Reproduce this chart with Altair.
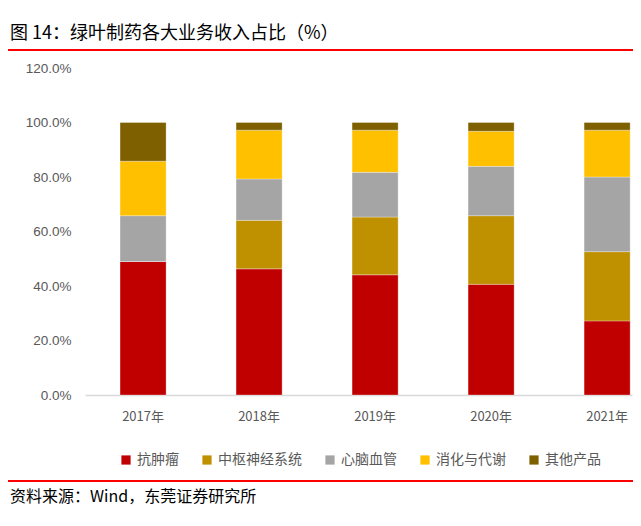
import altair as alt
import pandas as pd

years = ["2017年", "2018年", "2019年", "2020年", "2021年"]
segments = ["抗肿瘤", "中枢神经系统", "心脑血管", "消化与代谢", "其他产品"]
colors = ["#C00000", "#BF9000", "#A5A5A5", "#FFC000", "#7F6000"]

anti_tumor = [49.0, 46.3, 44.1, 40.6, 27.2]
cns = [0.0, 17.8, 21.2, 25.2, 25.4]
cardio = [16.8, 15.2, 16.4, 18.1, 27.4]
digest = [20.0, 17.9, 15.5, 12.9, 17.2]
others = [14.2, 2.8, 2.8, 3.2, 2.8]

y_ticks = [0.0, 0.2, 0.4, 0.6, 0.8, 1.0, 1.2]

title_text = "图 14：绿叶制药各大业务收入占比（%）"
source_text = "资料来源：Wind，东莞证券研究所"

series = [anti_tumor, cns, cardio, digest, others]
rows = []
for si, (seg, vals) in enumerate(zip(segments, series)):
    for yr, v in zip(years, vals):
        rows.append({"year": yr, "segment": seg, "value": v / 100.0, "ord": si})
df = pd.DataFrame(rows)

W, H = 547, 327
FONT = "Noto Sans CJK SC"

bars = alt.Chart(df).mark_bar(stroke="white", strokeWidth=0.5, strokeOpacity=0.6).encode(
    x=alt.X("year:N", sort=years, title=None,
            scale=alt.Scale(paddingInner=0.603, paddingOuter=0.159, align=0.95),
            axis=alt.Axis(labelAngle=0, ticks=False, domainColor="#D9D9D9", domainWidth=1.5,
                          labelColor="#595959", labelFontSize=13, labelFont=FONT,
                          labelPadding=15)),
    y=alt.Y("value:Q", stack="zero", title=None,
            scale=alt.Scale(domain=[0, 1.2], nice=False),
            axis=alt.Axis(values=y_ticks, format=".1%", grid=False, domain=False, ticks=False,
                          labelColor="#595959", labelFontSize=13.5, labelFont="Liberation Sans",
                          labelPadding=14)),
    color=alt.Color("segment:N", sort=segments,
                    scale=alt.Scale(domain=segments, range=colors),
                    legend=alt.Legend(title=None, orient="none", legendX=34, legendY=385,
                                      direction="horizontal", symbolType="square",
                                      symbolSize=85, symbolStrokeWidth=0,
                                      labelFontSize=14, labelColor="#595959", labelFont=FONT,
                                      columnPadding=21, labelOffset=4)),
    order=alt.Order("ord:Q", sort="ascending"),
)

title = alt.Chart(pd.DataFrame({"t": [title_text]})).mark_text(
    align="left", baseline="alphabetic", fontSize=18, font=FONT, color="#000000", fontWeight=400
).encode(x=alt.value(-75), y=alt.value(-29), text="t:N")

top_line = alt.Chart(pd.DataFrame({"a": [0]})).mark_rule(color="#FF0000", strokeWidth=2).encode(
    x=alt.value(-77), x2=alt.value(W + 1), y=alt.value(-18))

bottom_line = alt.Chart(pd.DataFrame({"a": [0]})).mark_rule(color="#FF0000", strokeWidth=2).encode(
    x=alt.value(-77), x2=alt.value(W + 1), y=alt.value(413))

source = alt.Chart(pd.DataFrame({"t": [source_text]})).mark_text(
    align="left", baseline="alphabetic", fontSize=16, font=FONT, color="#000000"
).encode(x=alt.value(-75), y=alt.value(434), text="t:N")

chart = alt.layer(bars, title, top_line, bottom_line, source).properties(
    width=W, height=H,
    autosize=alt.AutoSizeParams(type="none"),
    padding={"left": 77, "top": 60, "right": 1, "bottom": 123},
).configure_view(stroke=None)

chart.save("out.html", embed_options={"renderer": "svg", "actions": False})
